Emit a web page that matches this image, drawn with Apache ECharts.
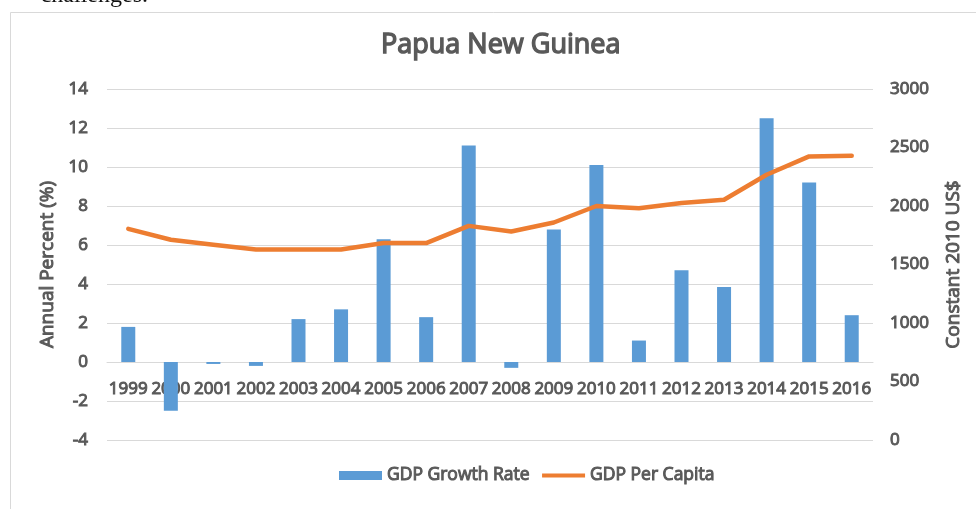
<!DOCTYPE html>
<html>
<head>
<meta charset="utf-8">
<script src="https://cdn.jsdelivr.net/npm/echarts@6/dist/echarts.min.js"></script>
<style>
html,body{margin:0;padding:0;background:#fff;}
#chart{width:976px;height:509px;}
</style>
</head>
<body>
<div id="chart"></div>
<script>
const years = ['1999','2000','2001','2002','2003','2004','2005','2006','2007','2008','2009','2010','2011','2012','2013','2014','2015','2016'];
const gdpGrowth = [1.8, -2.5, -0.1, -0.2, 2.2, 2.7, 6.3, 2.3, 11.1, -0.3, 6.8, 10.1, 1.1, 4.7, 3.85, 12.5, 9.2, 2.4];
const gdpPerCapita = [1805, 1712, 1668, 1628, 1628, 1628, 1683, 1683, 1830, 1782, 1859, 2000, 1980, 2025, 2053, 2267, 2424, 2429];
const leftTicks = {min: -4, max: 14, interval: 2};
const rightTicks = {min: 0, max: 3000, interval: 500};

const txt = '#595959';
const ff = '"Open Sans", sans-serif';
const thick = {textBorderColor: txt, textBorderWidth: 1};
const gridTop = 89, gridBottom = 69, H = 509;
const gridHeight = H - gridTop - gridBottom;
// move the category axis up to the zero line of the left value axis
const zeroOffset = -(0 - leftTicks.min) / (leftTicks.max - leftTicks.min) * gridHeight;

const chart = echarts.init(document.getElementById('chart'));
chart.setOption({
  backgroundColor: '#fff',
  animation: false,
  graphic: [
    {type: 'rect', left: 8, top: 10, shape: {width: 990, height: 530}, style: {fill: 'none', stroke: '#d9d9d9', lineWidth: 1}, silent: true},
    {type: 'text', right: 828, top: -16, style: {text: 'challenges.', font: '24px "Liberation Serif", serif', fill: '#111'}}
  ],
  title: {
    text: 'Papua New Guinea',
    left: 376, top: 27,
    textStyle: {color: txt, fontFamily: ff, fontSize: 27, fontWeight: 'normal', textBorderColor: txt, textBorderWidth: 1.4}
  },
  legend: {
    left: 334, top: 461,
    itemWidth: 43, itemHeight: 9, itemGap: 12,
    textStyle: Object.assign({color: txt, fontFamily: ff, fontSize: 17.5}, thick),
    data: [
      {name: 'GDP Growth Rate', icon: 'rect'},
      {name: 'GDP Per Capita', icon: 'path://M0,0L0.01,0L0.01,0.01L0,0.01ZM0,2.5L44,2.5L44,6.5L0,6.5ZM0,8.99L0.01,8.99L0.01,9L0,9Z', itemStyle: {color: '#ED7D31'}}
    ]
  },
  grid: {left: 107, right: 103, top: gridTop, bottom: gridBottom, containLabel: false},
  xAxis: {
    type: 'category',
    data: years,
    position: 'bottom',
    offset: zeroOffset,
    axisLine: {onZero: false, lineStyle: {color: '#d9d9d9'}},
    axisTick: {show: false},
    axisLabel: Object.assign({color: txt, fontFamily: ff, fontSize: 17, margin: 19, interval: 0}, thick)
  },
  yAxis: [
    {
      type: 'value', min: leftTicks.min, max: leftTicks.max, interval: leftTicks.interval,
      name: 'Annual Percent (%)', nameLocation: 'middle', nameGap: 44,
      nameTextStyle: Object.assign({color: txt, fontFamily: ff, fontSize: 19}, thick),
      axisLine: {show: false}, axisTick: {show: false},
      axisLabel: Object.assign({color: txt, fontFamily: ff, fontSize: 17, margin: 19}, thick),
      splitLine: {lineStyle: {color: '#d9d9d9'}}
    },
    {
      type: 'value', min: rightTicks.min, max: rightTicks.max, interval: rightTicks.interval,
      name: 'Constant 2010 US$', nameLocation: 'middle', nameGap: 71, nameRotate: 90,
      nameTextStyle: Object.assign({color: txt, fontFamily: ff, fontSize: 19}, thick),
      axisLine: {show: false}, axisTick: {show: false},
      axisLabel: Object.assign({color: txt, fontFamily: ff, fontSize: 17, margin: 17, formatter: v => String(v)}, thick),
      splitLine: {show: false}
    }
  ],
  series: [
    {
      name: 'GDP Growth Rate', type: 'bar', data: gdpGrowth, yAxisIndex: 0,
      barWidth: 14, itemStyle: {color: '#5B9BD5'}
    },
    {
      name: 'GDP Per Capita', type: 'line', data: gdpPerCapita, yAxisIndex: 1,
      symbol: 'none', lineStyle: {color: '#ED7D31', width: 4.5, join: 'round', cap: 'round'},
      itemStyle: {color: '#ED7D31'}
    }
  ]
});
</script>
</body>
</html>
